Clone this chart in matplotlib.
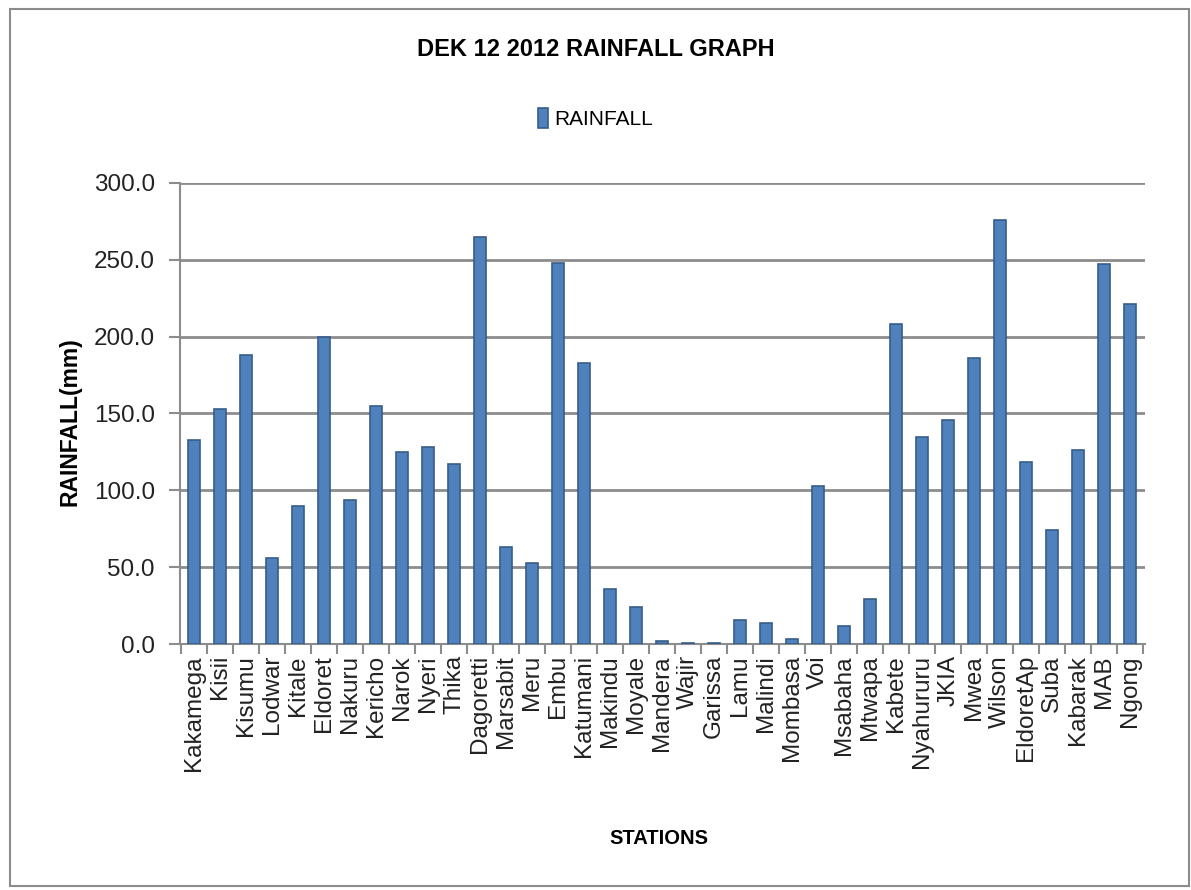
import matplotlib.pyplot as plt
from matplotlib.patches import Rectangle
import numpy as np

plt.rcParams['font.family'] = ['Liberation Sans', 'DejaVu Sans']

stations = ["Kakamega", "Kisii", "Kisumu", "Lodwar", "Kitale", "Eldoret", "Nakuru",
            "Kericho", "Narok", "Nyeri", "Thika", "Dagoretti", "Marsabit", "Meru",
            "Embu", "Katumani", "Makindu", "Moyale", "Mandera", "Wajir", "Garissa",
            "Lamu", "Malindi", "Mombasa", "Voi", "Msabaha", "Mtwapa", "Kabete",
            "Nyahururu", "JKIA", "Mwea", "Wilson", "EldoretAp", "Suba", "Kabarak",
            "MAB", "Ngong"]
rainfall = [133, 153, 188, 56, 90, 200, 94,
            155, 125, 128, 117, 265, 63, 53,
            248, 183, 36, 24, 2, 0.5, 0.5,
            15.5, 13.5, 3.5, 103, 11.5, 29.5, 208,
            134.5, 145.5, 186, 276, 118.5, 74, 126,
            247, 221]
yticks = [0, 50, 100, 150, 200, 250, 300]

fig = plt.figure(figsize=(11.91, 8.9), dpi=100)
ax = fig.add_axes([0.151, 0.2764, 0.81, 0.518])

# outer chart border
fig.patches.append(Rectangle((0.008, 0.005), 0.99, 0.985, transform=fig.transFigure,
                             fill=False, edgecolor="#8c8c8c", linewidth=1.5))

x = np.arange(len(stations))
ax.bar(x, rainfall, width=0.48, color="#4F81BD", edgecolor="#385D8A",
       linewidth=1.2, label="RAINFALL", zorder=3)

ax.set_xlim(-0.55, len(stations) - 0.45)
ax.set_ylim(0, 300)
ax.set_yticks(yticks)
ax.set_yticklabels([f"{v:.1f}" for v in yticks], fontsize=17.5, color="#222222")
ax.set_xticks(x)
ax.set_xticklabels(stations, rotation=90, fontsize=17.5, color="#222222")
ax.set_xticks(np.arange(len(stations) + 1) - 0.5, minor=True)
ax.tick_params(axis="x", which="major", length=0, pad=8)
ax.tick_params(axis="x", which="minor", length=7, color="#8c8c8c", width=1.5)
ax.tick_params(axis="y", length=8, color="#8c8c8c", width=1.5, pad=10)

ax.grid(axis="y", color="#8c8c8c", linewidth=2, zorder=0)
for s in ["top", "right"]:
    ax.spines[s].set_visible(False)
for s in ["left", "bottom"]:
    ax.spines[s].set_color("#8c8c8c")
    ax.spines[s].set_linewidth(1.5)

fig.text(0.5, 0.944, "DEK 12 2012 RAINFALL GRAPH", ha="center", va="center",
         fontsize=17, fontweight="bold")
ax.legend(loc="center", bbox_to_anchor=(0.5, 0.867), bbox_transform=fig.transFigure,
          frameon=False, fontsize=15, handlelength=0.5, handleheight=1.1,
          handletextpad=0.3)
fig.text(0.553, 0.058, "STATIONS", ha="center", va="center", fontsize=14.5,
         fontweight="bold")
fig.text(0.059, 0.526, "RAINFALL(mm)", ha="center", va="center", rotation=90,
         fontsize=16.5, fontweight="bold")

fig.savefig("out.png", dpi=100)
